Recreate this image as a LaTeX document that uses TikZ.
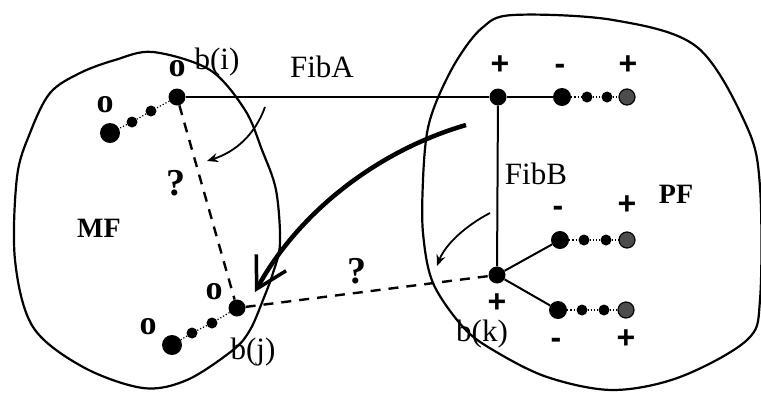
\documentclass[tikz,border=0pt]{standalone}
\usepackage{fontspec}
\setmainfont{Liberation Serif}
\newfontfamily\plusfont{Liberation Sans}
\usetikzlibrary{arrows.meta}
\begin{document}
\begin{tikzpicture}[x=1pt,y=-1pt,
  jn/.style={circle,fill=black,inner sep=0pt,minimum size=17pt},
  bigdot/.style={circle,fill=black,inner sep=0pt,minimum size=18pt},
  smalldot/.style={circle,fill=black,inner sep=0pt,minimum size=11pt},
  enddot/.style={circle,fill=black!70,draw=black,line width=1.2pt,inner sep=0pt,minimum size=16pt},
  lab/.style={font=\fontsize{31}{33}\selectfont,inner sep=0pt},
  boldlab/.style={font=\fontsize{28}{30}\selectfont\bfseries,inner sep=0pt},
  olab/.style={font=\fontsize{34}{36}\selectfont\bfseries,inner sep=0pt},
  qlab/.style={font=\fontsize{38}{40}\selectfont\bfseries,inner sep=0pt},
  sign/.style={font=\fontsize{32}{34}\selectfont\plusfont\bfseries,inner sep=0pt,text height=18pt,text depth=0pt},
  blob/.style={line width=2.2pt},
  wire/.style={line width=2pt},
  chainline/.style={line width=1.2pt,dotted},
  qline/.style={line width=2.4pt,dash pattern=on 10pt off 8pt},
  thinarrow/.style={line width=1.8pt,-{Stealth[length=11pt,width=9pt]}},
  thickarrow/.style={line width=4.5pt,-{Straight Barb[length=30pt,width=34pt,line width=3.5pt]}}
]
\useasboundingbox (0,0) rectangle (761,392);

% blobs
\draw[blob] plot[smooth cycle,tension=0.55] coordinates {
 (153,52) (210,70) (245,110) (262,150) (276,190) (280,243) (273,273)
 (263,300) (250,330) (233,350) (187,380) (143,388) (83,367) (33,327)
 (15,260) (17,177) (30,133) (50,93) (80,73) (115,60)};
\draw[blob] plot[smooth cycle,tension=0.55] coordinates {
 (513,15) (613,20) (697,47) (747,127) (760,187) (760,300) (747,340)
 (680,377) (613,390) (547,377) (493,350) (463,327) (433,283) (423,233)
 (423,180) (427,133) (437,100) (457,60) (482,28)};

% left chains
\node[jn] (bi) at (177,97) {};
\node[smalldot] (i1) at (151,111) {};
\node[smalldot] (i2) at (132,122) {};
\node[bigdot,minimum size=20pt] (i3) at (110,133) {};
\draw[chainline] (bi) -- (i1) -- (i2) -- (i3);

\node[jn] (bj) at (237,308) {};
\node[smalldot] (j1) at (212,323) {};
\node[smalldot] (j2) at (192,333) {};
\node[bigdot,minimum size=20pt] (j3) at (172,345) {};
\draw[chainline] (bj) -- (j1) -- (j2) -- (j3);

% right junctions
\node[jn] (top) at (498,97) {};
\node[jn] (bk) at (497,275) {};

% top chain
\node[bigdot] (t1) at (562,97) {};
\node[smalldot] (t2) at (587,97) {};
\node[smalldot] (t3) at (607,97) {};
\node[enddot] (t4) at (627,97) {};
\draw[chainline] (t1) -- (t2) -- (t3) -- (t4);

% upper branch
\node[bigdot] (u1) at (560,240) {};
\node[smalldot] (u2) at (584,240) {};
\node[smalldot] (u3) at (606,240) {};
\node[enddot] (u4) at (627,240) {};
\draw[chainline] (u1) -- (u2) -- (u3) -- (u4);

% lower branch
\node[bigdot] (l1) at (558,310) {};
\node[smalldot] (l2) at (582,310) {};
\node[smalldot] (l3) at (604,310) {};
\node[enddot] (l4) at (626,310) {};
\draw[chainline] (l1) -- (l2) -- (l3) -- (l4);

% wires
\draw[wire] (bi) -- (top);
\draw[wire] (top) -- (t1);
\draw[wire] (top) -- (bk);
\draw[wire] (bk) -- (u1);
\draw[wire] (bk) -- (l1);

% dashed
\draw[qline] (bi) -- (bj);
\draw[qline] (bj) -- (bk);

% arrows
\coordinate (a1s) at (265,107);
\coordinate (a1e) at (207,161);
\draw[thinarrow] (a1s) .. controls (255,135) and (235,152) .. (a1e);
\coordinate (a2s) at (490,213);
\coordinate (a2e) at (437,266);
\draw[thinarrow] (a2s) .. controls (465,226) and (445,245) .. (a2e);
\coordinate (a3s) at (466,125);
\coordinate (a3e) at (255,292);
\draw[thickarrow] (a3s) .. controls (380,150) and (300,210) .. (a3e);

% labels
\node[lab] (lbi) at (217,62) {b(i)};
\node[lab] (lfa) at (322,67) {FibA};
\node[lab] (lfb) at (536,174) {FibB};
\node[lab] (lbj) at (253,352) {b(j)};
\node[lab] (lbk) at (482,334) {b(k)};
\node[boldlab] (lmf) at (99,228) {MF};
\node[boldlab] (lpf) at (676,194) {PF};

\node[olab] (o1) at (105,105) {o};
\node[olab] (o2) at (177,69) {o};
\node[olab] (o3) at (214,292) {o};
\node[olab] (o4) at (148,327) {o};
\node[qlab] (q1) at (176,183) {?};
\node[qlab] (q2) at (357,271) {?};

\node[sign] (s1) at (500,65) {+};
\node[sign] (s2) at (560,65) {-};
\node[sign] (s3) at (628,65) {+};
\node[sign] (s4) at (558,207) {-};
\node[sign] (s5) at (627,205) {+};
\node[sign] (s6) at (497,303) {+};
\node[sign] (s7) at (556,339) {-};
\node[sign] (s8) at (626,339) {+};
\end{tikzpicture}
\end{document}
